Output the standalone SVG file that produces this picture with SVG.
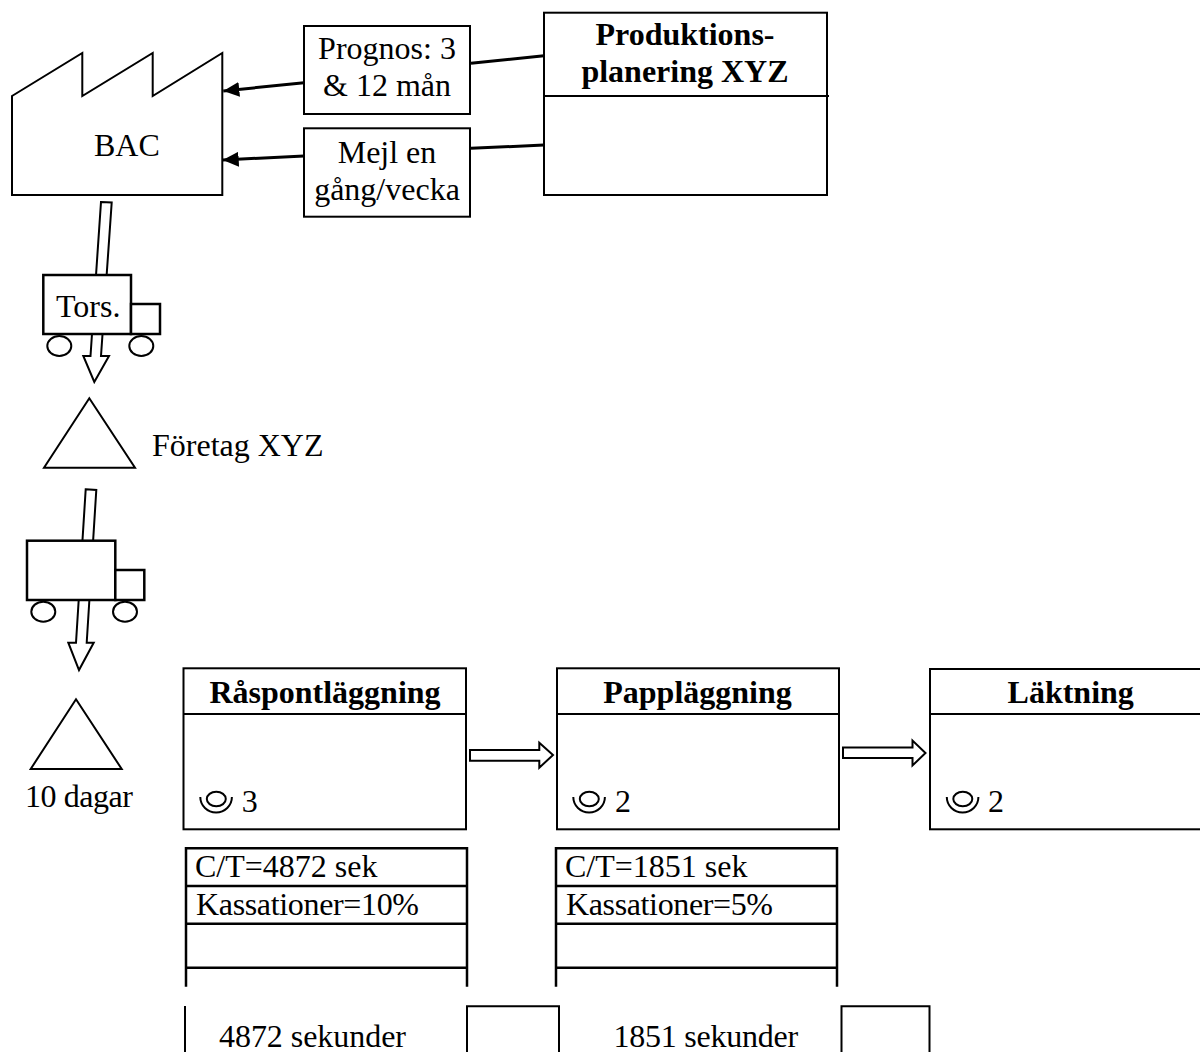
<svg xmlns="http://www.w3.org/2000/svg" width="1200" height="1052" viewBox="0 0 1200 1052">
<style>
text{font-family:"Liberation Serif","Times New Roman",serif;font-size:32px;fill:#000}
.b{font-weight:bold}
.m{text-anchor:middle}
.s{fill:#fff;stroke:#000;stroke-width:2}
.t{fill:#fff;stroke:#000;stroke-width:2.500}
.n{fill:none;stroke:#000;stroke-width:2}
.d{fill:none;stroke:#000;stroke-width:2.500}
.l{fill:none;stroke:#000;stroke-width:3}
</style>
<defs>
<marker id="head" markerUnits="userSpaceOnUse" markerWidth="18" markerHeight="16" refX="16" refY="8" orient="auto"><path d="M0 0.5L16 8L0 15.500Z" fill="#000"/></marker>
<g id="inv"><ellipse cx="216.300" cy="799" rx="9.500" ry="7.300" class="n"/><path d="M200.300 797A15.800 15.500 0 0 0 231.900 797" class="n"/></g>
</defs>
<rect width="1200" height="1052" fill="#fff"/>
<g id="connectors">
<path class="l" d="M304 82.700L223.300 91" marker-end="url(#head)"/>
<path class="l" d="M304 156L222.700 160" marker-end="url(#head)"/>
<path class="l" d="M471 63.300L544 55.700"/>
<path class="l" d="M471 148.300L544 145"/>
<polygon class="s" points="101,202 111.700,202.500 101,356 109,356 94.300,382 83.300,356 90.500,356"/>
<polygon class="s" points="85.700,489.300 96.300,490 86.700,642.700 93.700,642.700 79,670 68.300,642.700 76,642.700"/>
<polygon class="s" points="470,750 539.300,750 539.300,742.700 553,755 539.300,767.700 539.300,760.700 470,760.700"/>
<polygon class="s" points="843,747.500 912.500,747.500 912.500,740.500 925.500,753 912.500,765.500 912.500,758 843,758"/>
</g>
<g id="bac"><polygon class="s" points="12,96 82.300,53 82.300,96 152.700,53 152.700,96 222.300,53 222.300,195 12,195"/><text x="94" y="155.700">BAC</text></g>
<g id="prognos"><rect class="s" x="304" y="26" width="166" height="88"/><text class="m" x="387" y="59">Prognos: 3</text><text class="m" x="387" y="96">&amp; 12 mån</text></g>
<g id="mejl"><rect class="s" x="304" y="128.300" width="166" height="88.400"/><text class="m" x="387" y="163">Mejl en</text><text class="m" x="387" y="200">gång/vecka</text></g>
<g id="produktion"><rect class="s" x="544" y="12.700" width="283" height="182.300"/><path class="n" d="M544 96H829"/><text class="b m" x="685" y="44.700">Produktions-</text><text class="b m" x="685" y="81.700">planering XYZ</text></g>
<g id="truck1"><rect class="t" x="43.300" y="275" width="87.700" height="59"/><rect class="t" x="131" y="304" width="29" height="30"/><ellipse class="s" cx="59.300" cy="346" rx="12" ry="10"/><ellipse class="s" cx="141.300" cy="346" rx="12" ry="10"/><text x="56" y="316.700" textLength="64.500">Tors.</text></g>
<g id="lager1"><polygon class="s" points="89.300,398.300 135,467.700 44,467.700"/><text x="152" y="456">Företag XYZ</text></g>
<g id="truck2"><rect class="t" x="27" y="540.700" width="88.300" height="59.300"/><rect class="t" x="115.300" y="570" width="29" height="30"/><ellipse class="s" cx="43.300" cy="611.700" rx="12" ry="10"/><ellipse class="s" cx="125" cy="611.700" rx="12" ry="10"/></g>
<g id="lager2"><polygon class="s" points="76,699.300 121.700,769 30.700,769"/><text x="25" y="806.700" textLength="108">10 dagar</text></g>
<g id="raspont"><rect class="s" x="183.500" y="668.300" width="282.500" height="161"/><path class="n" d="M183.500 714H466"/><text class="b m" x="325" y="703.300">Råspontläggning</text><use href="#inv"/><text x="241.700" y="811.700">3</text></g>
<g id="papp"><rect class="s" x="557" y="668.300" width="282" height="161"/><path class="n" d="M557 714H839"/><text class="b m" x="697.500" y="703.300">Pappläggning</text><use href="#inv" x="373"/><text x="615" y="811.700">2</text></g>
<g id="laktning"><rect class="s" x="930" y="669" width="280" height="160.300"/><path class="n" d="M930 714H1200"/><text class="b m" x="1070.700" y="703.300">Läktning</text><use href="#inv" x="746.500"/><text x="988" y="811.700">2</text></g>
<g id="data1"><path class="d" d="M186 986.700V848.300H467V986.700M186 886H467M186 923.700H467M186 967.700H467"/><text x="195" y="877.300">C/T=4872 sek</text><text x="196" y="915.300" textLength="223">Kassationer=10%</text></g>
<g id="data2"><path class="d" d="M556 986.700V848.300H837V986.700M556 886H837M556 923.700H837M556 967.700H837"/><text x="565" y="877.300">C/T=1851 sek</text><text x="566" y="915.300" textLength="207">Kassationer=5%</text></g>
<g id="tid"><path class="n" d="M185 1006V1052M467 1060V1006.300H559V1060M841.500 1060V1006.300H929.500V1060"/><text x="219" y="1047" textLength="187">4872 sekunder</text><text x="613.600" y="1047" textLength="184.500">1851 sekunder</text></g>
</svg>
